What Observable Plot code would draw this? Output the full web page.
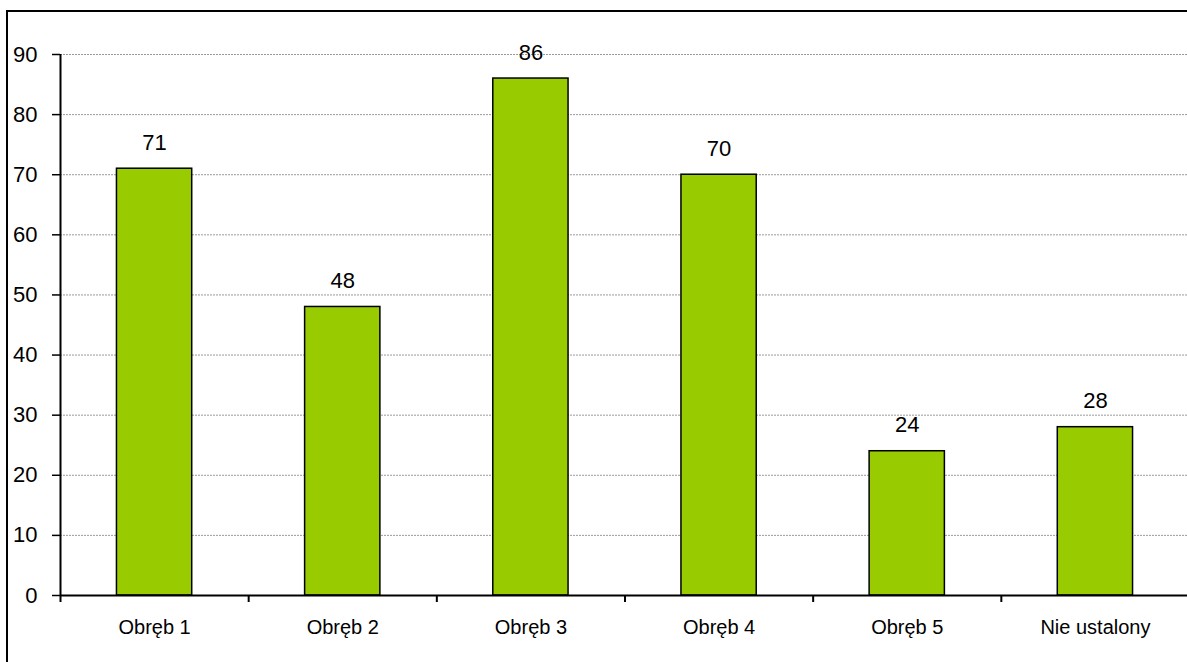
<!DOCTYPE html>
<html>
<head>
<meta charset="utf-8">
<script src="https://cdn.jsdelivr.net/npm/d3@7"></script>
<script src="https://cdn.jsdelivr.net/npm/@observablehq/plot@0.6"></script>
<style>
  html, body { margin: 0; padding: 0; background: #fff; overflow: hidden; width: 1187px; height: 662px; }
  #chart { position: absolute; left: 0; top: 0; width: 1187px; height: 662px; overflow: hidden; }
  #frame { position: absolute; left: 6px; top: 10px; width: 1400px; height: 800px;
           border-left: 2px solid #000; border-top: 2px solid #000; pointer-events: none; }
</style>
</head>
<body>
<div id="chart"></div>
<div id="frame"></div>
<script>
const categories = ["Obręb 1", "Obręb 2", "Obręb 3", "Obręb 4", "Obręb 5", "Nie ustalony"];
const values = [71, 48, 86, 70, 24, 28];
const yTicks = [0, 10, 20, 30, 40, 50, 60, 70, 80, 90];

const data = categories.map((c, i) => ({ c, v: values[i], i }));
const boundaries = d3.range(categories.length + 1);

const chart = Plot.plot({
  width: 1187,
  height: 662,
  marginTop: 54,
  marginBottom: 67,
  marginLeft: 60,
  marginRight: 0,
  style: { fontFamily: "'Liberation Sans', Arial, sans-serif", color: "#000", background: "transparent", overflow: "hidden" },
  x: { type: "linear", domain: [0, categories.length], range: [60, 1189], axis: null },
  y: { domain: [0, 90], axis: null },
  marks: [
    Plot.ruleY(yTicks.filter(t => t > 0), { x1: 0, x2: categories.length, stroke: "#9a9a9a", strokeWidth: 1, strokeDasharray: "2,1" }),
    Plot.rectY(data, { x1: d => d.i + 0.3, x2: d => d.i + 0.7, y1: 0, y2: "v", fill: "#99CC00", stroke: "#000", strokeWidth: 1.5 }),
    Plot.ruleX([0], { y1: 0, y2: 90, stroke: "#000", strokeWidth: 2 }),
    Plot.ruleY([0], { x1: 0, x2: categories.length, stroke: "#000", strokeWidth: 2 }),
    Plot.axisY({ ticks: yTicks, label: null, tickSize: 8, tickPadding: 15, fontSize: 22, strokeWidth: 1.5, tickFormat: d => String(d) }),
    Plot.axisX({ ticks: boundaries, label: null, tickSize: 7, strokeWidth: 2, tickFormat: () => "" }),
    Plot.text(data, { x: d => d.i + 0.5, y: 0, text: "c", dy: 32, fontSize: 20 }),
    Plot.text(data, { x: d => d.i + 0.5, y: "v", text: d => String(d.v), dy: -26, fontSize: 22 })
  ]
});
document.getElementById("chart").appendChild(chart);
</script>
</body>
</html>
